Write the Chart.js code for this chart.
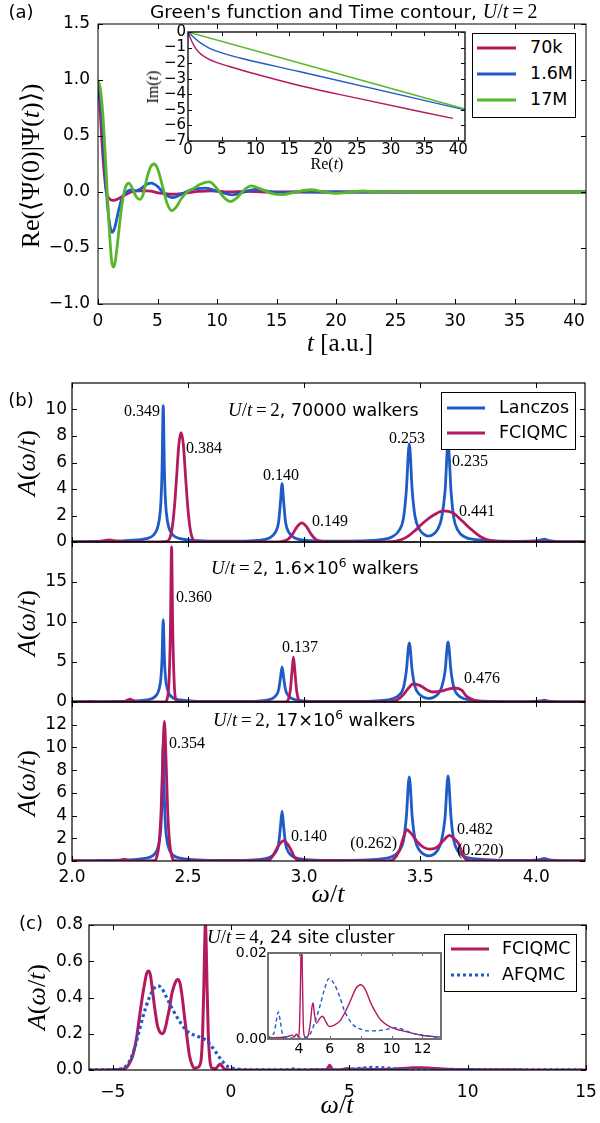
<!DOCTYPE html>
<html><head><meta charset="utf-8">
<script src="https://cdn.jsdelivr.net/npm/chart.js@4.4.1/dist/chart.umd.min.js"></script>
<style>
html,body{margin:0;padding:0;background:#fff;}
#root{position:relative;width:600px;height:1123px;overflow:hidden;background:#fff;font-family:"DejaVu Sans",sans-serif;color:#000;}
#root canvas{position:absolute;}
.tx{position:absolute;white-space:nowrap;line-height:1;}
.sf{font-family:"Liberation Serif","Times New Roman",serif;}
.it{font-style:italic;}
.lgbox{position:absolute;border:1px solid #000;background:#fff;box-sizing:border-box;}
sup{font-size:0.7em;line-height:0;vertical-align:0.5em;}
</style></head><body><div id="root"></div>
<script>
// ---------------- DATA ----------------
// Panel (a): Re<Psi(0)|Psi(t)> vs t  [t, value]
const a70k = [[0,1.0],[0.15,0.8],[0.3,0.5],[0.5,0.2],[0.7,0.0],[0.95,-0.06],[1.3,-0.075],[1.7,-0.06],[2.2,-0.03],[2.8,0.0],[3.3,0.01],[4.2,0.01],[5.2,-0.01],[6.3,-0.02],[7.3,-0.01],[8.5,0.005],[9.5,0.01],[11,0.0],[12.5,0.005],[14,0.0],[41,0.0]];
const a16M = [[0,1.0],[0.2,0.85],[0.4,0.55],[0.6,0.18],[0.8,-0.12],[1.0,-0.3],[1.2,-0.36],[1.4,-0.32],[1.7,-0.18],[2.0,-0.06],[2.4,0.0],[2.8,0.02],[3.2,0.01],[3.6,0.03],[4.1,0.07],[4.5,0.08],[5.0,0.05],[5.6,-0.02],[6.3,-0.05],[7.0,-0.02],[7.8,0.02],[9.0,0.035],[10.2,0.0],[11.3,-0.025],[12.3,0.0],[13.2,0.024],[14.3,0.005],[15.5,-0.006],[17,0.004],[19,0.0],[41,0.0]];
const a17M = [[0,1.0],[0.2,0.92],[0.4,0.7],[0.6,0.35],[0.8,-0.05],[1.0,-0.42],[1.15,-0.62],[1.3,-0.67],[1.45,-0.62],[1.7,-0.4],[2.0,-0.12],[2.3,0.04],[2.6,0.08],[2.9,0.03],[3.2,-0.04],[3.5,-0.066],[3.8,-0.02],[4.1,0.12],[4.4,0.22],[4.7,0.25],[5.0,0.21],[5.4,0.06],[5.8,-0.1],[6.2,-0.165],[6.6,-0.13],[7.0,-0.06],[7.5,0.0],[8.0,0.03],[8.6,0.07],[9.35,0.09],[10.0,0.03],[10.5,-0.04],[11.1,-0.085],[11.7,-0.05],[12.3,0.02],[12.9,0.054],[13.6,0.03],[14.5,-0.01],[15.5,-0.024],[16.6,0.0],[17.9,0.02],[19.0,0.0],[20.0,-0.012],[21.2,0.0],[22.3,0.009],[23.5,0.0],[25,0.004],[27,0.0],[41,0.0]];
// Panel (a) inset: time contour [Re(t), Im(t)]
const in70k = [[0,0],[0.5,-0.55],[1,-0.95],[1.5,-1.25],[2,-1.45],[3,-1.72],[4,-1.92],[6,-2.2],[10,-2.7],[16.6,-3.45],[25,-4.25],[39.2,-5.55]];
const in16M = [[0,0],[1,-0.4],[2,-0.75],[3,-1.0],[4,-1.2],[5.5,-1.4],[8,-1.7],[16.6,-2.55],[41,-5.0]];
const in17M = [[0,0],[41,-4.95]];
// Panel (b): A(omega/t)  [omega/t, A]
const bLanczos = [[2.00,0.03],[2.10,0.04],[2.20,0.07],[2.28,0.15],[2.32,0.25],[2.35,0.5],[2.365,0.9],[2.375,1.6],[2.383,3.0],[2.388,5.5],[2.393,10.3],[2.398,5.5],[2.403,3.0],[2.411,1.6],[2.421,0.9],[2.436,0.5],[2.466,0.25],[2.52,0.12],[2.62,0.06],[2.72,0.06],[2.80,0.12],[2.85,0.3],[2.875,0.7],[2.89,1.5],[2.898,3.0],[2.905,4.4],[2.912,3.0],[2.92,1.5],[2.935,0.7],[2.96,0.3],[3.01,0.12],[3.10,0.06],[3.25,0.08],[3.33,0.18],[3.38,0.4],[3.41,0.9],[3.428,1.8],[3.44,3.8],[3.453,7.4],[3.466,3.8],[3.478,1.9],[3.495,1.0],[3.515,0.6],[3.535,0.45],[3.555,0.55],[3.575,0.95],[3.592,1.8],[3.607,3.8],[3.62,7.5],[3.633,3.8],[3.645,1.8],[3.662,0.9],[3.69,0.4],[3.74,0.18],[3.82,0.08],[3.92,0.05],[3.99,0.08],[4.02,0.15],[4.035,0.22],[4.05,0.12],[4.08,0.05],[4.21,0.02]];
const bFc70k = [[2.00,0.00],[2.10,0.01],[2.13,0.08],[2.16,0.15],[2.19,0.08],[2.23,0.01],[2.38,0.01],[2.41,0.05],[2.423,0.36],[2.432,1.1],[2.4415,2.68],[2.451,5.0],[2.46,7.3],[2.47,8.25],[2.48,7.3],[2.489,5.0],[2.4985,2.68],[2.508,1.1],[2.517,0.36],[2.53,0.05],[2.56,0.01],[2.88,0.01],[2.90,0.03],[2.93,0.2],[2.95,0.6],[2.97,1.16],[2.99,1.45],[3.01,1.16],[3.03,0.6],[3.05,0.2],[3.08,0.05],[3.12,0.01],[3.35,0.01],[3.40,0.08],[3.44,0.35],[3.48,0.9],[3.52,1.55],[3.56,2.05],[3.60,2.35],[3.64,2.2],[3.68,1.6],[3.72,0.95],[3.76,0.4],[3.80,0.12],[3.85,0.02],[3.90,0.01],[3.97,0.03],[4.00,0.05],[4.03,0.02],[4.21,0.0]];
const bFc16M = [[2.00,0.00],[2.06,0.03],[2.08,0.08],[2.10,0.02],[2.22,0.02],[2.24,0.25],[2.25,0.35],[2.26,0.25],[2.28,0.02],[2.40,0.01],[2.41,0.4],[2.418,2.6],[2.424,9.0],[2.429,19.4],[2.434,9.0],[2.44,2.6],[2.446,0.4],[2.455,0.02],[2.50,0.01],[2.92,0.01],[2.932,0.3],[2.941,1.6],[2.948,3.9],[2.954,5.6],[2.96,3.9],[2.967,1.6],[2.976,0.3],[2.99,0.01],[3.36,0.01],[3.40,0.25],[3.43,1.0],[3.45,1.75],[3.47,2.25],[3.50,2.05],[3.53,1.5],[3.555,1.25],[3.59,1.35],[3.62,1.6],[3.65,1.75],[3.68,1.45],[3.70,0.7],[3.73,0.25],[3.76,0.06],[3.80,0.01],[3.95,0.02],[4.21,0.0]];
const bFc17M = [[2.00,0.00],[2.20,0.00],[2.215,0.1],[2.225,0.15],[2.235,0.1],[2.25,0.0],[2.355,0.02],[2.365,0.35],[2.375,1.5],[2.384,4.5],[2.391,9.0],[2.398,12.3],[2.405,9.0],[2.412,4.5],[2.421,1.5],[2.431,0.35],[2.442,0.02],[2.50,0.01],[2.84,0.02],[2.86,0.3],[2.88,1.0],[2.895,1.5],[2.912,1.8],[2.928,1.5],[2.943,1.0],[2.96,0.3],[2.98,0.03],[3.36,0.01],[3.385,0.15],[3.41,0.9],[3.425,1.9],[3.443,2.75],[3.46,2.45],[3.486,1.72],[3.515,1.2],[3.543,1.04],[3.575,1.25],[3.60,1.8],[3.626,2.25],[3.645,2.0],[3.665,1.55],[3.687,0.4],[3.70,0.1],[3.72,0.01],[3.90,0.01],[4.21,0.0]];
// Panel (c): A(omega/t), U/t=4, 24 site cluster  [omega/t, A]
const cFciqmc = [[-6.0,0],[-5.0,0.001],[-4.6,0.005],[-4.43,0.012],[-4.3,0.035],[-4.15,0.08],[-4.0,0.17],[-3.87,0.29],[-3.75,0.40],[-3.66,0.47],[-3.57,0.53],[-3.48,0.546],[-3.40,0.52],[-3.31,0.43],[-3.2,0.32],[-3.1,0.24],[-2.98,0.205],[-2.89,0.2],[-2.78,0.23],[-2.68,0.29],[-2.6,0.34],[-2.5,0.42],[-2.39,0.47],[-2.3,0.495],[-2.22,0.50],[-2.14,0.47],[-2.05,0.39],[-1.97,0.30],[-1.86,0.18],[-1.76,0.083],[-1.65,0.03],[-1.55,0.01],[-1.4,0.015],[-1.27,0.05],[-1.2,0.2],[-1.15,0.45],[-1.11,0.7],[-1.08,0.81],[-1.05,0.7],[-1.01,0.45],[-0.96,0.2],[-0.89,0.05],[-0.8,0.01],[-0.65,0.008],[-0.55,0.022],[-0.46,0.033],[-0.37,0.02],[-0.25,0.003],[0,0.0005],[1,0.0005],[2,0.0003],[2.5,0.0003],[3.0,0.0004],[3.3,0.0006],[3.55,0.0009],[3.7,0.0005],[3.85,0.0012],[3.95,0.0005],[4.05,0.004],[4.11,0.014],[4.17,0.026],[4.23,0.014],[4.3,0.002],[4.42,0.0003],[4.6,0.0008],[4.75,0.004],[4.85,0.0075],[4.92,0.0084],[5.0,0.006],[5.14,0.0037],[5.35,0.0048],[5.53,0.0053],[5.75,0.004],[5.96,0.0029],[6.3,0.0032],[6.7,0.0044],[7.0,0.0063],[7.35,0.009],[7.7,0.0118],[8.0,0.0126],[8.3,0.0115],[8.65,0.0084],[9.0,0.006],[9.3,0.0044],[9.87,0.0029],[10.95,0.0017],[12.0,0.0008],[13.0,0.0005],[15.0,0.0002]];
const cAfqmc = [[-6.0,0],[-5.0,0.002],[-4.6,0.007],[-4.45,0.02],[-4.3,0.046],[-4.15,0.09],[-4.01,0.15],[-3.87,0.22],[-3.73,0.29],[-3.59,0.35],[-3.45,0.40],[-3.3,0.44],[-3.1,0.465],[-2.92,0.45],[-2.74,0.405],[-2.53,0.35],[-2.32,0.30],[-2.1,0.255],[-1.9,0.22],[-1.7,0.20],[-1.48,0.19],[-1.27,0.178],[-1.06,0.165],[-0.88,0.14],[-0.7,0.11],[-0.52,0.075],[-0.35,0.046],[-0.15,0.02],[0.07,0.01],[0.4,0.004],[1.0,0.001],[2.0,0.0005],[2.4,0.0015],[2.55,0.0045],[2.67,0.0063],[2.8,0.004],[2.95,0.001],[3.2,0.0003],[4.0,0.0002],[4.5,0.0004],[4.71,0.001],[5.0,0.0035],[5.35,0.0075],[5.65,0.0115],[5.96,0.0141],[6.3,0.0127],[6.65,0.0098],[6.9,0.007],[7.2,0.0048],[7.6,0.003],[8.0,0.0023],[8.4,0.0019],[8.84,0.0019],[9.5,0.0021],[10.0,0.0025],[10.35,0.0026],[10.8,0.0021],[11.2,0.0015],[12.0,0.0009],[13.0,0.0004],[15.0,0.0001]];
// Tick values
const aXTicks = [0,5,10,15,20,25,30,35,40];
const aYTicks = [-1.0,-0.5,0.0,0.5,1.0,1.5];
const aInXTicks = [0,5,10,15,20,25,30,35,40];
const aInYTicks = [-7,-6,-5,-4,-3,-2,-1,0];
const bXTicks = [2.0,2.5,3.0,3.5,4.0];
const b1YTicks = [0,2,4,6,8,10];
const b2YTicks = [0,5,10,15];
const b3YTicks = [0,2,4,6,8,10,12];
const cXTicks = [-5,0,5,10,15];
const cYTicks = [0.0,0.2,0.4,0.6,0.8];
const cInXTicks = [4,6,8,10,12];
const cInYTicks = [0.00,0.02];

// ---------------- STYLE ----------------
const MAG = '#b3195e', BLU = '#1f5bc6', GRN = '#5bb52a';
const root = document.getElementById('root');
Chart.defaults.font.family = 'DejaVu Sans';
Chart.defaults.color = '#000';

const minus = s => s.replace('-', '\u2212');
const f0 = v => minus(String(v));
const f1 = v => minus((Math.abs(v) < 1e-9 ? 0 : v).toFixed(1));
const f2 = v => minus(v.toFixed(2));

const framePlugin = {
  id: 'frame',
  beforeDraw(chart, args, o) {
    if (!o.bg) return;
    const a = chart.chartArea, ctx = chart.ctx;
    ctx.save(); ctx.fillStyle = o.bg; ctx.fillRect(a.left, a.top, a.width, a.height); ctx.restore();
  },
  afterDraw(chart, args, o) {
    const {ctx, chartArea: a} = chart; const sx = chart.scales.x, sy = chart.scales.y;
    const L = o.tl || 5;
    ctx.save();
    ctx.strokeStyle = o.tc || '#000'; ctx.lineWidth = 1;
    ctx.beginPath();
    sx.ticks.forEach(t => { const p = Math.round(sx.getPixelForValue(t.value)) + 0.5;
      ctx.moveTo(p, a.bottom); ctx.lineTo(p, a.bottom - L); ctx.moveTo(p, a.top); ctx.lineTo(p, a.top + L); });
    sy.ticks.forEach(t => { const p = Math.round(sy.getPixelForValue(t.value)) + 0.5;
      ctx.moveTo(a.left, p); ctx.lineTo(a.left + L, p); ctx.moveTo(a.right, p); ctx.lineTo(a.right - L, p); });
    ctx.stroke();
    ctx.strokeStyle = o.color || '#000'; ctx.lineWidth = o.width || 1;
    ctx.strokeRect(a.left, a.top, a.width, a.height);
    ctx.restore();
  }
};

function makeChart(box, m, o) {
  const W = box.r - box.l + m.l + m.r, H = box.b - box.t + m.t + m.b;
  const cv = document.createElement('canvas');
  cv.width = W; cv.height = H;
  cv.style.left = (box.l - m.l) + 'px'; cv.style.top = (box.t - m.t) + 'px';
  cv.style.width = W + 'px'; cv.style.height = H + 'px';
  root.appendChild(cv);
  const fnt = {family: 'DejaVu Sans', size: o.fs || 17};
  return new Chart(cv, {
    type: 'line',
    data: {datasets: o.datasets.map(d => ({
      data: d.pts.map(p => ({x: p[0], y: p[1]})),
      borderColor: d.c, borderWidth: d.w, borderDash: d.dash || [],
      pointRadius: 0, fill: false, cubicInterpolationMode: 'monotone',
      order: d.order || 0, borderCapStyle: d.cap || 'butt', borderJoinStyle: 'round'
    }))},
    options: {
      responsive: false, animation: false, devicePixelRatio: 1,
      layout: {padding: {left: 0, top: m.t, right: m.r, bottom: 0}},
      plugins: {legend: {display: false}, tooltip: {enabled: false},
        frame: {color: o.fc || '#000', width: o.fw || 1, tl: o.tl || 5, bg: o.bg || null, tc: o.tc || '#000'}},
      events: [],
      scales: {
        x: {type: 'linear', min: o.x[0], max: o.x[1],
          grid: {display: false, drawTicks: false}, border: {display: false},
          ticks: {display: o.xLabels !== false, font: fnt, color: '#000', padding: o.xpad,
            maxRotation: 0, autoSkip: false, callback: v => o.xfmt(v)},
          afterBuildTicks: s => { s.ticks = o.xt.map(v => ({value: v})); },
          afterFit: s => { s.height = m.b; s.paddingLeft = 0; s.paddingRight = 0; }},
        y: {type: 'linear', min: o.y[0], max: o.y[1],
          grid: {display: false, drawTicks: false}, border: {display: false},
          ticks: {font: fnt, color: '#000', padding: o.ypad, autoSkip: false, callback: v => o.yfmt(v)},
          afterBuildTicks: s => { s.ticks = o.yt.map(v => ({value: v})); },
          afterFit: s => { s.width = m.l; s.paddingTop = 0; s.paddingBottom = 0; }}
      }
    },
    plugins: [framePlugin]
  });
}

// ---------------- PANEL (a) ----------------
makeChart({l:98,t:24,r:586,b:304}, {l:70,t:16,r:6,b:30}, {
  x:[0,41], y:[-1,1.5], xt:aXTicks, yt:aYTicks, xfmt:f0, yfmt:f1, xpad:7, ypad:8, fw:1,
  datasets:[
    {pts:a70k, c:MAG, w:2.8, order:2},
    {pts:a16M, c:BLU, w:2.8, order:1},
    {pts:a17M, c:GRN, w:2.8, order:0}
  ]});
makeChart({l:188,t:32,r:465,b:141}, {l:30,t:8,r:10,b:20}, {
  x:[0,41], y:[-7,0], xt:aInXTicks, yt:aInYTicks, xfmt:f0, yfmt:f0, fs:15, xpad:0, ypad:2, tl:4,
  bg:'#fff', fw:1.5, fc:'#222',
  datasets:[
    {pts:in70k, c:MAG, w:1.4, order:2},
    {pts:in16M, c:BLU, w:1.4, order:1},
    {pts:in17M, c:GRN, w:1.4, order:0}
  ]});

// ---------------- PANEL (b) ----------------
const bBoxes = [
  {box:{l:72,t:383,r:585,b:542}, y:[0,12], yt:b1YTicks, fc:bFc70k},
  {box:{l:72,t:542,r:585,b:702}, y:[0,20], yt:b2YTicks, fc:bFc16M},
  {box:{l:72,t:702,r:585,b:861}, y:[0,14], yt:b3YTicks, fc:bFc17M}
];
bBoxes.forEach((b, i) => {
  makeChart(b.box, {l:60,t:4,r:8,b:i===2?30:4}, {
    x:[2.0,4.21], y:b.y, xt:bXTicks, yt:b.yt, xfmt:f1, yfmt:f0, xLabels:i===2, xpad:6, ypad:5, fw:1.2,
    datasets:[
      {pts:bLanczos, c:BLU, w:2.8, order:1},
      {pts:b.fc, c:MAG, w:2.8, order:0}
    ]});
});

// ---------------- PANEL (c) ----------------
makeChart({l:89,t:925,r:586,b:1070}, {l:70,t:14,r:14,b:30}, {
  x:[-6,15], y:[0,0.8], xt:cXTicks, yt:cYTicks, xfmt:f0, yfmt:f1, xpad:12, ypad:6, fw:1.2,
  datasets:[
    {pts:cFciqmc, c:MAG, w:3, order:1},
    {pts:cAfqmc, c:BLU, w:3.2, dash:[3,3], order:0}
  ]});
makeChart({l:268,t:953,r:441,b:1039}, {l:40,t:8,r:8,b:20}, {
  x:[2,13.2], y:[0,0.02], xt:cInXTicks, yt:cInYTicks, xfmt:f0, yfmt:f2, fs:14, xpad:2, ypad:1, tl:3,
  bg:'#fff', fw:2, fc:'#707070', tc:'#707070',
  datasets:[
    {pts:cFciqmc, c:MAG, w:1.4, order:1},
    {pts:cAfqmc, c:BLU, w:1.4, dash:[4,3], order:0}
  ]});

// ---------------- TEXT ----------------
function T(html, x, y, anchor, size, rot) {
  const d = document.createElement('div');
  d.className = 'tx';
  d.innerHTML = html;
  d.style.left = x + 'px'; d.style.top = y + 'px'; d.style.fontSize = size + 'px';
  const ax = anchor === 'l' ? '0' : anchor === 'r' ? '-100%' : '-50%';
  d.style.transform = 'translate(' + ax + ',-50%)' + (rot ? ' rotate(-90deg)' : '');
  root.appendChild(d);
}
const Ut = n => '<span class="sf it" style="font-size:1.08em">U</span><span class="sf" style="font-size:1.08em">/</span><span class="sf it" style="font-size:1.08em">t</span><span class="sf" style="font-size:1.08em">&#8201;=&#8201;' + n + '</span>';
const Aw = '<span class="sf"><i>A</i>(<i>\u03c9</i>/<i>t</i>)</span>';
const wt = '<span class="sf"><i>\u03c9</i>/<i>t</i></span>';

// (a)
T('(a)', 21, 12, 'c', 18);
T("Green's function and Time contour, " + Ut('2'), 150, 11, 'l', 18.5);
T('<span class="sf">Re(\u27e8\u03a8(0)|\u03a8(<i>t</i>)\u27e9)</span>', 30, 166, 'c', 26, true);
T('<span class="sf"><i>t</i> [a.u.]</span>', 340, 342, 'c', 25);
T('<span class="sf">Im(<i>t</i>)</span>', 153, 87, 'c', 16, true);
T('<span class="sf">Re(<i>t</i>)</span>', 327, 164, 'c', 16);

// (b)
T('(b)', 21, 400, 'c', 18);
T(Ut('2') + ', 70000 walkers', 228, 410, 'l', 17.5);
T(Ut('2') + ', 1.6\u00d710<sup>6</sup> walkers', 211, 568, 'l', 17.5);
T(Ut('2') + ', 17\u00d710<sup>6</sup> walkers', 213, 720, 'l', 17.5);
const bNums = [
  ['0.349',160,411,'r'],['0.384',186,448,'l'],['0.140',263,475,'l'],['0.149',312,521,'l'],
  ['0.253',389,438,'l'],['0.235',452,461,'l'],['0.441',459,511,'l'],
  ['0.360',176,597,'l'],['0.137',282,647,'l'],['0.476',464,678,'l'],
  ['0.354',169,743,'l'],['0.140',291,836,'l'],['(0.262)',397,843,'r'],['0.482',457,829,'l'],['(0.220)',457,850,'l']
];
bNums.forEach(n => T('<span class="sf">' + n[0] + '</span>', n[1], n[2], n[3], 16));
T(Aw, 26, 463, 'c', 26, true);
T(Aw, 26, 623, 'c', 26, true);
T(Aw, 26, 783, 'c', 26, true);
T(wt, 328, 893, 'c', 26);

// (c)
T('(c)', 31, 923, 'c', 18);
T(Ut('4') + ', 24 site cluster', 207, 937, 'l', 17.5);
T(Aw, 36, 997, 'c', 26, true);
T(wt, 337, 1104, 'c', 26);

// ---------------- LEGENDS ----------------
function legend(box, x1, x2, tx, items) {
  const d = document.createElement('div');
  d.className = 'lgbox';
  d.style.left = box.l + 'px'; d.style.top = box.t + 'px';
  d.style.width = (box.r - box.l) + 'px'; d.style.height = (box.b - box.t) + 'px';
  root.appendChild(d);
  const ns = 'http://www.w3.org/2000/svg';
  const svg = document.createElementNS(ns, 'svg');
  svg.setAttribute('width', 600); svg.setAttribute('height', 1123);
  svg.style.position = 'absolute'; svg.style.left = '0'; svg.style.top = '0';
  root.appendChild(svg);
  items.forEach(it => {
    const ln = document.createElementNS(ns, 'line');
    ln.setAttribute('x1', x1); ln.setAttribute('x2', x2);
    ln.setAttribute('y1', it.y); ln.setAttribute('y2', it.y);
    ln.setAttribute('stroke', it.c); ln.setAttribute('stroke-width', it.w || 3);
    if (it.dash) ln.setAttribute('stroke-dasharray', it.dash);
    svg.appendChild(ln);
    T(it.label, tx, it.y, 'l', 17.5);
  });
}
legend({l:472,t:33,r:576,b:118}, 477, 516, 530, [
  {y:48, c:MAG, label:'70k'}, {y:74, c:BLU, label:'1.6M'}, {y:100, c:GRN, label:'17M'}]);
legend({l:441,t:392,r:576,b:450}, 447, 485, 499, [
  {y:408, c:BLU, label:'Lanczos'}, {y:433, c:MAG, label:'FCIQMC'}]);
legend({l:444,t:934,r:577,b:992}, 451, 489, 502, [
  {y:949, c:MAG, label:'FCIQMC'}, {y:975, c:BLU, label:'AFQMC', dash:'3,3', w:3.2}]);
</script></body></html>
